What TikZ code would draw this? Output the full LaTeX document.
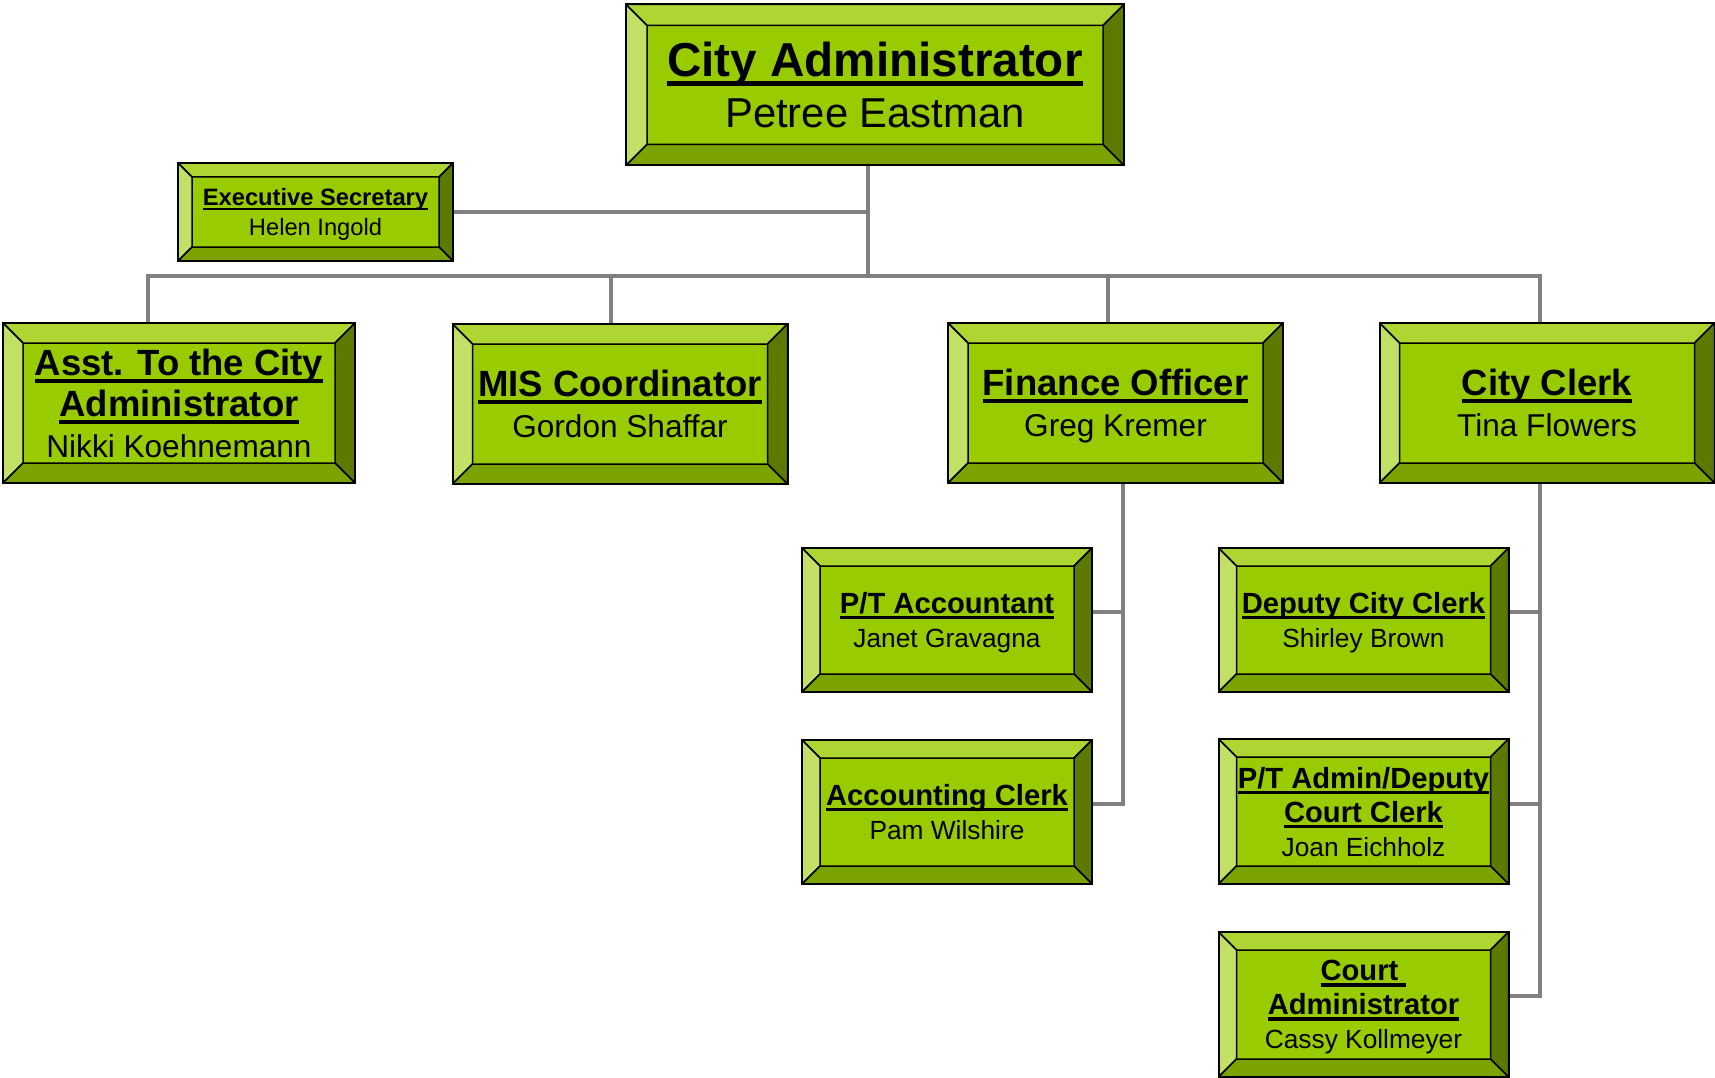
\documentclass[tikz,border=0pt]{standalone}
\usepackage{fontspec}
\setmainfont{Liberation Sans}
\definecolor{cmid}{HTML}{99CC00}
\definecolor{ctop}{HTML}{ADD633}
\definecolor{cleft}{HTML}{C2E066}
\definecolor{cright}{HTML}{5C7A00}
\definecolor{cbot}{HTML}{7AA300}
\definecolor{linegray}{HTML}{808080}
% underlined bold title line
\newcommand{\ttl}[1]{{\fontsize{\tsz}{\baselineskip}\selectfont\bfseries
  \setbox0\hbox{#1}\rlap{\rule[-0.2em]{\wd0}{0.11em}}\box0}}

\begin{document}
\begin{tikzpicture}[x=1pt, y=-1pt,
    conn/.style={draw=linegray, line width=4pt},
    bevelbox/.style={draw=black, line width=2pt, fill=cmid, inner sep=0pt, align=center, text depth=0pt,
      path picture={
        \path (path picture bounding box.north west) coordinate (nw)
              (path picture bounding box.south east) coordinate (se)
              ([shift={(\bw,-\bw)}]nw) coordinate (inw)
              ([shift={(-\bw,\bw)}]se) coordinate (ise);
        \filldraw[fill=ctop, draw=black, line width=1.5pt] (nw) -- (nw -| se) -- (inw -| ise) -- (inw) -- cycle;
        \filldraw[fill=cleft, draw=black, line width=1.5pt] (nw) -- (inw) -- (inw |- ise) -- (nw |- se) -- cycle;
        \filldraw[fill=cright, draw=black, line width=1.5pt] (nw -| se) -- (se) -- (ise) -- (inw -| ise) -- cycle;
        \filldraw[fill=cbot, draw=black, line width=1.5pt] (nw |- se) -- (se) -- (ise) -- (inw |- ise) -- cycle;
      }},
    topbox/.style={bevelbox, minimum width=498, minimum height=161, /utils/exec={\def\bw{21pt}},
      font=\fontsize{41.8}{51}\selectfont\def\tsz{47.6}},
    secbox/.style={bevelbox, minimum width=275, minimum height=98, /utils/exec={\def\bw{14pt}},
      font=\fontsize{23.7}{30}\selectfont\def\tsz{23.7}},
    deptbox/.style={bevelbox, minimum width=335, minimum height=160, /utils/exec={\def\bw{20pt}},
      font=\fontsize{31.6}{41}\selectfont\def\tsz{36.5}},
    staffbox/.style={bevelbox, minimum width=290, minimum height=144, /utils/exec={\def\bw{18pt}},
      font=\fontsize{26.3}{34}\selectfont\def\tsz{29.2}}]
  \useasboundingbox (0,0) rectangle (1715,1078);

  % 1. Top of the chart
  \node[topbox] (cadmin) at (875,85) {\ttl{City Administrator}\\Petree Eastman};
  \node[secbox] (exsec) at (315.5,212) {\ttl{Executive Secretary}\\Helen Ingold};

  % 2. Department heads
  \node[deptbox, minimum width=352] (asst) at (179,403) {\ttl{Asst. To the City}\\\ttl{Administrator}\\Nikki Koehnemann};
  \node[deptbox] (mis) at (620,404) {\ttl{MIS Coordinator}\\Gordon Shaffar};
  \node[deptbox] (fin) at (1115.5,403) {\ttl{Finance Officer}\\Greg Kremer};
  \node[deptbox] (cclerk) at (1547,403) {\ttl{City Clerk}\\Tina Flowers};

  % 3. Staff
  \node[staffbox] (ptacc) at (947,620) {\ttl{P/T Accountant}\\Janet Gravagna};
  \node[staffbox] (accl) at (947,812) {\ttl{Accounting Clerk}\\Pam Wilshire};
  \node[staffbox] (dep) at (1363.5,620) {\ttl{Deputy City Clerk}\\Shirley Brown};
  \node[staffbox, minimum height=145] (ptadm) at (1363.5,811.5) {\ttl{P/T Admin/Deputy}\\\ttl{Court Clerk}\\Joan Eichholz};
  \node[staffbox, minimum height=145] (court) at (1363.5,1004.5) {\ttl{Court }\\\ttl{Administrator}\\Cassy Kollmeyer};

  % 4. Connectors
  \coordinate (bus) at (868,276);
  \draw[conn] ([xshift=-7pt]cadmin.south) -- (bus);
  \draw[conn] (exsec.east) -- (exsec.east -| bus);
  \draw[conn] ([xshift=-31pt]asst.north) |- (bus) -| ([xshift=-7pt]cclerk.north);
  \draw[conn] ([xshift=-9pt]mis.north) |- (bus);
  \draw[conn] ([xshift=-7.5pt]fin.north) |- (bus);

  \coordinate (ftr) at ([xshift=7.5pt]fin.south);
  \draw[conn] (ftr) |- ([yshift=8pt]accl.east);
  \path ([yshift=8pt]ptacc.east) coordinate (pa);
  \draw[conn] (pa) -- (pa -| ftr);

  \coordinate (ctr) at ([xshift=-7pt]cclerk.south);
  \draw[conn] (ctr) |- ([yshift=8.5pt]court.east);
  \path ([yshift=8pt]dep.east) coordinate (da)
        ([yshift=7.5pt]ptadm.east) coordinate (pd);
  \draw[conn] (da) -- (da -| ctr);
  \draw[conn] (pd) -- (pd -| ctr);
\end{tikzpicture}
\end{document}
